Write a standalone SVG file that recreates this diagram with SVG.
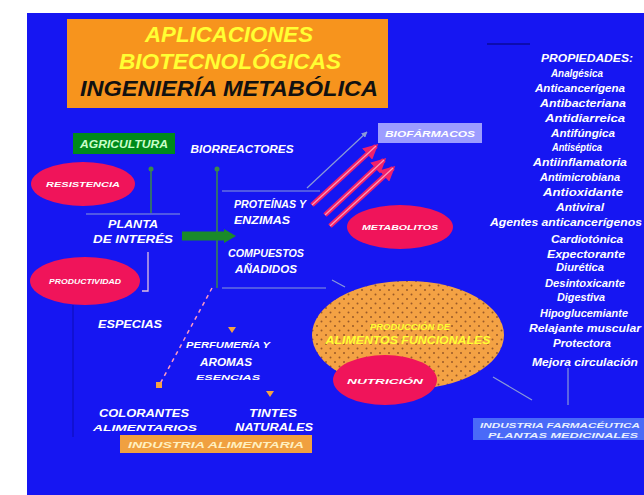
<svg xmlns="http://www.w3.org/2000/svg" width="644" height="495" viewBox="0 0 644 495">
<defs>
<style>
.t{font-family:"Liberation Sans",Arial,sans-serif;font-weight:bold;font-style:italic;fill:#ffffff;text-anchor:middle}
.s{font-size:10px}
.m{font-size:11px}
.l{font-family:"Liberation Sans",Arial,sans-serif;font-weight:bold;font-style:italic;fill:#ffffff;text-anchor:middle;font-size:10.5px}
.ln{stroke:#8a9ad8;stroke-width:1.2;fill:none}
.gl{stroke:#3a8a4a;stroke-width:1.5;fill:none}
.red{fill:#f0145a}
.ra{stroke:#f0206a;stroke-width:5;fill:none}
.ri{stroke:#ff9ab8;stroke-width:1.2;fill:none}
</style>
<pattern id="dots" width="9" height="9" patternUnits="userSpaceOnUse">
<rect width="9" height="9" fill="#f4a244"/>
<circle cx="2" cy="2" r="1" fill="#9a5a28"/>
<circle cx="6.5" cy="6.5" r="1" fill="#9a5a28"/>
</pattern>
<marker id="ah" viewBox="0 0 10 10" refX="9" refY="5" markerWidth="5" markerHeight="5" orient="auto"><path d="M0,0L10,5L0,10z" fill="#8a9ad8"/></marker>
<marker id="rh" viewBox="0 0 10 10" refX="8" refY="5" markerWidth="3" markerHeight="3" orient="auto"><path d="M0,0L10,5L0,10z" fill="#f0206a"/></marker>
</defs>
<rect x="0" y="0" width="644" height="495" fill="#ffffff"/>
<rect x="27" y="13" width="617" height="482" fill="#1616f2"/>
<line x1="487" y1="44" x2="530" y2="44" stroke="#0c0cb0" stroke-width="2"/>

<g id="title">
<rect x="67" y="19" width="321" height="89" fill="#f7941d"/>
<text x="229" y="42" font-family="Liberation Sans,Arial,sans-serif" font-weight="bold" font-style="italic" font-size="22" fill="#ffff33" text-anchor="middle" textLength="168" lengthAdjust="spacingAndGlyphs">APLICACIONES</text>
<text x="230" y="69" font-family="Liberation Sans,Arial,sans-serif" font-weight="bold" font-style="italic" font-size="22" fill="#ffff33" text-anchor="middle" textLength="222" lengthAdjust="spacingAndGlyphs">BIOTECNOLÓGICAS</text>
<text x="229" y="96" font-family="Liberation Sans,Arial,sans-serif" font-weight="bold" font-style="italic" font-size="22" fill="#111111" text-anchor="middle" textLength="298" lengthAdjust="spacingAndGlyphs">INGENIERÍA METABÓLICA</text>
</g>

<g id="connectors">
<line class="gl" x1="151" y1="168" x2="151" y2="213"/>
<circle cx="151" cy="169" r="2.5" fill="#3a8a4a"/>
<line class="ln" x1="86" y1="214" x2="180" y2="214"/>
<line class="gl" x1="217" y1="168" x2="217" y2="288"/>
<circle cx="217" cy="169" r="2.5" fill="#3a8a4a"/>
<line x1="182" y1="236" x2="226" y2="236" stroke="#1a8a2a" stroke-width="9"/>
<path d="M224,229L236,236L224,243z" fill="#1a8a2a"/>
<line class="ln" x1="222" y1="191" x2="320" y2="191"/>
<line class="ln" x1="222" y1="288" x2="326" y2="288"/>
<path d="M148,252V291H142" stroke="#e0c0e0" stroke-width="1.3" fill="none"/>
<line class="ln" x1="307" y1="188" x2="367" y2="132" marker-end="url(#ah)"/>
<line class="ra" x1="312" y1="205" x2="376" y2="146" marker-end="url(#rh)"/>
<line class="ri" x1="312" y1="205" x2="376" y2="146"/>
<line class="ra" x1="325" y1="215" x2="384" y2="160" marker-end="url(#rh)"/>
<line class="ri" x1="325" y1="215" x2="384" y2="160"/>
<line class="ra" x1="330" y1="226" x2="393" y2="168" marker-end="url(#rh)"/>
<line class="ri" x1="330" y1="226" x2="393" y2="168"/>
<line x1="212" y1="288" x2="160" y2="384" stroke="#ff9ac0" stroke-width="1.5" stroke-dasharray="4,4"/>
<rect x="156" y="382" width="6" height="6" fill="#f4a244"/>
<path d="M228,327h8l-4,6z" fill="#f4a244"/>
<path d="M266,391h8l-4,6z" fill="#f4a244"/>
<line class="ln" x1="332" y1="280" x2="345" y2="287"/>
<line x1="73" y1="305" x2="73" y2="437" stroke="#1010c8" stroke-width="1.5"/>
<line class="ln" x1="568" y1="368" x2="568" y2="405"/>
<line class="ln" x1="493" y1="377" x2="532" y2="400"/>
</g>

<g id="agricultura">
<rect x="73" y="133" width="102" height="21" fill="#008a1a"/>
<text class="t s" x="124" y="147.5" style="fill:#c8ffc8" textLength="88" lengthAdjust="spacingAndGlyphs">AGRICULTURA</text>
</g>
<g id="biorreactores">
<text class="t s" x="242" y="153" textLength="103" lengthAdjust="spacingAndGlyphs">BIORREACTORES</text>
</g>
<g id="ellipse-resistencia">
<ellipse class="red" cx="83" cy="184" rx="52" ry="22"/>
<text class="t" font-size="8" x="83" y="187" textLength="74" lengthAdjust="spacingAndGlyphs">RESISTENCIA</text>
</g>
<g id="ellipse-calidad">
<ellipse class="red" cx="85" cy="281" rx="55" ry="24"/>
<text class="t" font-size="8" x="85" y="284" textLength="72" lengthAdjust="spacingAndGlyphs">PRODUCTIVIDAD</text>
</g>
<g id="planta">
<text class="t m" x="133" y="228" textLength="50" lengthAdjust="spacingAndGlyphs">PLANTA</text>
<text class="t m" x="133" y="243" textLength="80" lengthAdjust="spacingAndGlyphs">DE INTERÉS</text>
</g>
<g id="proteinas">
<text class="t s" x="270" y="208" textLength="72" lengthAdjust="spacingAndGlyphs">PROTEÍNAS Y</text>
<text class="t s" x="262" y="224" textLength="56" lengthAdjust="spacingAndGlyphs">ENZIMAS</text>
<text class="t s" x="266" y="257" textLength="76" lengthAdjust="spacingAndGlyphs">COMPUESTOS</text>
<text class="t s" x="266" y="273" textLength="62" lengthAdjust="spacingAndGlyphs">AÑADIDOS</text>
</g>
<g id="biofarmacos">
<rect x="378" y="123" width="104" height="20" fill="#9c9cff"/>
<text class="t" font-size="9" x="430" y="137" textLength="90" lengthAdjust="spacingAndGlyphs">BIOFÁRMACOS</text>
</g>
<g id="ellipse-metabolitos">
<ellipse class="red" cx="400" cy="227" rx="53" ry="22"/>
<text class="t" font-size="8" x="400" y="230" textLength="76" lengthAdjust="spacingAndGlyphs">METABOLITOS</text>
</g>
<g id="alimentos-funcionales">
<ellipse cx="408" cy="335" rx="96" ry="54" fill="url(#dots)"/>
<text class="t" font-size="9" x="410" y="330" style="fill:#ffff33" textLength="80" lengthAdjust="spacingAndGlyphs">PRODUCCIÓN DE</text>
<text class="t" font-size="10" x="408" y="344" style="fill:#ffff33" textLength="165" lengthAdjust="spacingAndGlyphs">ALIMENTOS FUNCIONALES</text>
</g>
<g id="ellipse-nutricion">
<ellipse class="red" cx="385" cy="380" rx="52" ry="25"/>
<text class="t" font-size="8" x="385" y="384" textLength="76" lengthAdjust="spacingAndGlyphs">NUTRICIÓN</text>
</g>
<g id="especias">
<text class="t s" x="130" y="328" textLength="64" lengthAdjust="spacingAndGlyphs">ESPECIAS</text>
</g>
<g id="aromas">
<text class="t" font-size="9" x="228" y="348" textLength="84" lengthAdjust="spacingAndGlyphs">PERFUMERÍA Y</text>
<text class="t m" x="226" y="366" textLength="52" lengthAdjust="spacingAndGlyphs">AROMAS</text>
<text class="t" font-size="8" x="228" y="380" textLength="64" lengthAdjust="spacingAndGlyphs">ESENCIAS</text>
</g>
<g id="colorantes">
<text class="t m" x="144" y="417" textLength="90" lengthAdjust="spacingAndGlyphs">COLORANTES</text>
<text class="t" font-size="9" x="145" y="431" textLength="104" lengthAdjust="spacingAndGlyphs">ALIMENTARIOS</text>
</g>
<g id="tintes">
<text class="t m" x="273" y="417" textLength="48" lengthAdjust="spacingAndGlyphs">TINTES</text>
<text class="t s" x="274" y="431" textLength="78" lengthAdjust="spacingAndGlyphs">NATURALES</text>
</g>
<g id="industria-alimentaria">
<rect x="120" y="435" width="192" height="18" fill="#f0a040"/>
<text class="t" font-size="9" x="216" y="448" style="fill:#fff0c0" textLength="176" lengthAdjust="spacingAndGlyphs">INDUSTRIA ALIMENTARIA</text>
</g>
<g id="propiedades">
<text class="l" x="587" y="62" textLength="92" lengthAdjust="spacingAndGlyphs">PROPIEDADES:</text>
<text class="l" x="577" y="77" textLength="52" lengthAdjust="spacingAndGlyphs">Analgésica</text>
<text class="l" x="580" y="92" textLength="90" lengthAdjust="spacingAndGlyphs">Anticancerígena</text>
<text class="l" x="583" y="107" textLength="86" lengthAdjust="spacingAndGlyphs">Antibacteriana</text>
<text class="l" x="585" y="122" textLength="80" lengthAdjust="spacingAndGlyphs">Antidiarreica</text>
<text class="l" x="583" y="137" textLength="64" lengthAdjust="spacingAndGlyphs">Antifúngica</text>
<text class="l" x="577" y="151" textLength="50" lengthAdjust="spacingAndGlyphs">Antiséptica</text>
<text class="l" x="580" y="166" textLength="94" lengthAdjust="spacingAndGlyphs">Antiinflamatoria</text>
<text class="l" x="580" y="181" textLength="80" lengthAdjust="spacingAndGlyphs">Antimicrobiana</text>
<text class="l" x="583" y="196" textLength="80" lengthAdjust="spacingAndGlyphs">Antioxidante</text>
<text class="l" x="580" y="211" textLength="48" lengthAdjust="spacingAndGlyphs">Antiviral</text>
<text class="l" x="566" y="226" textLength="152" lengthAdjust="spacingAndGlyphs">Agentes anticancerígenos</text>
<text class="l" x="587" y="243" textLength="72" lengthAdjust="spacingAndGlyphs">Cardiotónica</text>
<text class="l" x="586" y="258" textLength="78" lengthAdjust="spacingAndGlyphs">Expectorante</text>
<text class="l" x="580" y="271" textLength="48" lengthAdjust="spacingAndGlyphs">Diurética</text>
<text class="l" x="585" y="287" textLength="80" lengthAdjust="spacingAndGlyphs">Desintoxicante</text>
<text class="l" x="581" y="301" textLength="48" lengthAdjust="spacingAndGlyphs">Digestiva</text>
<text class="l" x="584" y="317" textLength="88" lengthAdjust="spacingAndGlyphs">Hipoglucemiante</text>
<text class="l" x="585" y="332" textLength="112" lengthAdjust="spacingAndGlyphs">Relajante muscular</text>
<text class="l" x="582" y="347" textLength="58" lengthAdjust="spacingAndGlyphs">Protectora</text>
<text class="l" x="585" y="366" textLength="106" lengthAdjust="spacingAndGlyphs">Mejora circulación</text>
</g>
<g id="industria-farmaceutica">
<rect x="473" y="418" width="171" height="22" fill="#4a6af8"/>
<text class="t" font-size="8" x="560" y="428" style="fill:#e8f0ff" textLength="160" lengthAdjust="spacingAndGlyphs">INDUSTRIA FARMACÉUTICA</text>
<text class="t" font-size="8" x="563" y="437.5" style="fill:#e8f0ff" textLength="150" lengthAdjust="spacingAndGlyphs">PLANTAS MEDICINALES</text>
</g>
</svg>
